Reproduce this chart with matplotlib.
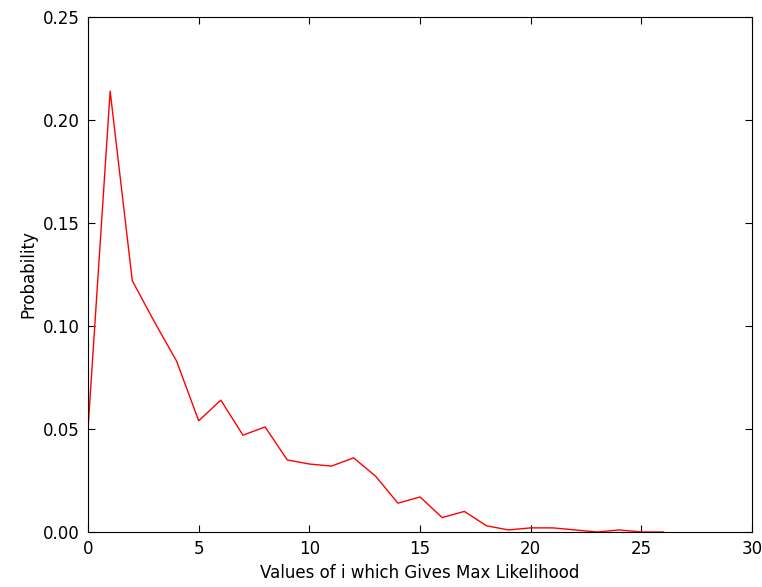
import numpy as np
import matplotlib
matplotlib.use("Agg")
import matplotlib.pyplot as plt

# values of i and the probability that each one gives max likelihood
i_values = list(range(27))
probability = [0.050, 0.214, 0.122, 0.102, 0.083, 0.054, 0.064, 0.047, 0.051,
               0.035, 0.033, 0.032, 0.036, 0.027, 0.014, 0.017, 0.007, 0.010,
               0.003, 0.001, 0.002, 0.002, 0.001, 0.000, 0.001, 0.000, 0.000]

x_ticks = [0, 5, 10, 15, 20, 25, 30]
y_ticks = [0.00, 0.05, 0.10, 0.15, 0.20, 0.25]

fig = plt.figure(figsize=(7.62, 5.87), dpi=100)
ax = fig.add_axes([0.1155, 0.0937, 0.8715, 0.8773])

ax.plot(i_values, probability, color="red", linewidth=1.0)

ax.set_xlim(0, 30)
ax.set_ylim(0, 0.25)
ax.set_xticks(x_ticks)
ax.set_yticks(y_ticks)
ax.set_yticklabels(["%.2f" % v for v in y_ticks])
ax.tick_params(direction="in", top=True, right=True, length=5, labelsize=12, pad=6)

ax.set_xlabel("Values of i which Gives Max Likelihood", fontsize=12)
ax.set_ylabel("Probability", fontsize=12)

plt.savefig("out.png", dpi=100)
